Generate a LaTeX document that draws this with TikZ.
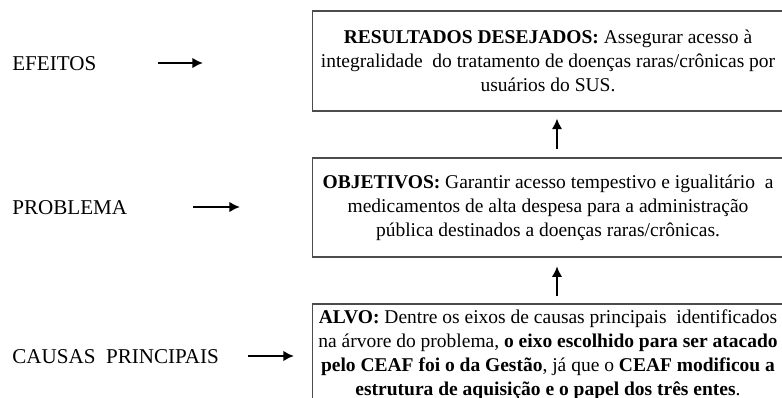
\documentclass[tikz,border=0pt]{standalone}
\usepackage{fontspec}
\setmainfont{Liberation Serif}
\usetikzlibrary{arrows.meta}

\begin{document}
\begin{tikzpicture}[x = 0.02cm, y = -0.02cm,
        mbox/.style = {draw = black!70, line width = 0.6pt, align = center, minimum width = 9.44cm, inner sep = 0pt, font = \fontsize{11.1}{13.7}\selectfont},
        mlabel/.style = {anchor = west, inner sep = 0pt, font = \fontsize{12}{13.7}\selectfont},
        marrow/.style = {-{Latex[length = 6pt, width = 6pt]}, line width = 1.6pt}
    ]
        \useasboundingbox (0,0) rectangle (782,398);

        % caixas da arvore de objetivos
        \node[mbox, minimum height = 2cm] (res) at (548,61) {\textbf{RESULTADOS DESEJADOS:} Assegurar acesso à\\integralidade~ do tratamento de doenças raras/crônicas por\\usuários do SUS.};
        \node[mbox, minimum height = 1.98cm] (obj) at (548,207.5) {\textbf{OBJETIVOS:} Garantir acesso tempestivo e igualitário~ a\\medicamentos de alta despesa para a administração\\pública destinados a doenças raras/crônicas.};
        \node[mbox, minimum height = 2.04cm] (alvo) at (548,355) {\textbf{ALVO:} Dentre os eixos de causas principais~ identificados\\na árvore do problema, \textbf{o eixo escolhido para ser atacado}\\\textbf{pelo CEAF foi o da Gestão}, já que o \textbf{CEAF modificou a}\\\textbf{estrutura de aquisição e o papel dos três entes}.};

        \draw[marrow, shorten < = 5pt, shorten > = 4pt] ([xshift = 0.18cm]obj.north) -- ([xshift = 0.18cm]res.south);
        \draw[marrow, shorten < = 4pt, shorten > = 5pt] ([xshift = 0.18cm]alvo.north) -- ([xshift = 0.18cm]obj.south);

        % niveis
        \node[mlabel] (efeitos) at (12,64) {EFEITOS};
        \node[mlabel] (problema) at (12,208) {PROBLEMA};
        \node[mlabel] (causas) at (12,357) {CAUSAS~ PRINCIPAIS};

        \coordinate (e1) at (158,63);  \coordinate (e2) at (203,63);
        \coordinate (p1) at (193,207); \coordinate (p2) at (240,207);
        \coordinate (c1) at (248,356); \coordinate (c2) at (294,356);
        \draw[marrow] (e1) -- (e2);
        \draw[marrow] (p1) -- (p2);
        \draw[marrow] (c1) -- (c2);
    \end{tikzpicture}
\end{document}
